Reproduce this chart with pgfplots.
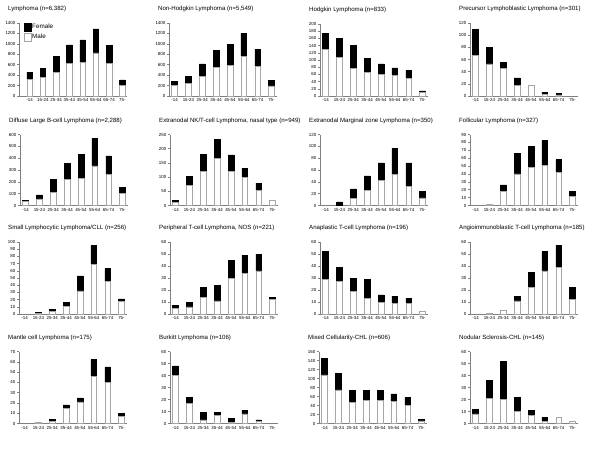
\documentclass[border=0pt]{standalone}
\usepackage{pgfplots}
\pgfplotsset{compat=1.18}
\usepackage{pgfplotstable}
\usepackage{fontspec}
\setmainfont{Liberation Sans}

\pgfplotstableread{
x m1 f1 m2 f2 m3 f3 m4 f4 m5 f5 m6 f6 m7 f7 m8 f8 m9 f9 m10 f10 m11 f11 m12 f12 m13 f13 m14 f14 m15 f15 m16 f16
0 320 140 200 85 130 43 67 42 38 4 10 7 0 0 0 0 0 0 5 2 29 23 0 0 0 0 40 8 108 37 8 4
1 355 180 245 135 108 53 53 27 55 35 70 33 0 6 1 0 1 1 6 4 27 12 1 0 1 0 17 5 75 37 21 15
2 450 310 370 245 77 63 45 10 110 110 120 61 12 16 18 8 4 2 14 8 19 11 3 0 2 2 3 6 47 26 20 32
3 620 360 550 330 66 38 18 12 220 135 167 66 25 25 40 26 11 5 11 13 13 16 11 4 15 3 7 2 52 21 10 12
4 645 430 585 405 60 29 17 0 230 205 120 58 42 30 48 27 32 21 30 15 10 6 22 13 21 4 1 3 52 21 7 4
5 825 460 765 440 58 20 3 3 335 235 100 31 52 44 51 32 69 26 34 15 9 6 36 16 46 16 8 3 50 16 2 3
6 620 345 565 335 49 22 2 2 260 160 53 26 32 40 42 16 45 18 36 14 9 4 39 18 40 15 2 1 41 17 5 0
7 210 100 195 100 10 4 0 0 100 55 17 2 13 11 12 6 18 3 12 2 2 0 12 10 7 3 0 0 6 4 2 0
}\data

\pgfplotsset{
  panel/.style={
    scale only axis, width=108pt,
    ybar stacked, bar width=5.7pt,
    enlargelimits=false, ymin=0,
    xmin=-0.4, xmax=7.4,
    axis x line*=bottom, axis y line*=left,
    axis line style={-, draw=gray, line width=0.6pt},
    xtick={0,...,7},
    xticklabels={-14,15-24,25-34,35-44,45-54,55-64,65-74,75-},
    x tick style={draw=none},
    extra x ticks={0.5,1.5,...,6.5},
    extra x tick labels={},
    extra x tick style={major tick length=1.2pt, tick style={draw=gray!70, line width=0.4pt}},
    y tick style={draw=gray, line width=0.5pt},
    tick align=outside, major tick length=2pt,
    ticklabel style={font=\fontsize{4.4}{5}\selectfont},
    /pgf/number format/assume math mode=true,
    /pgf/number format/1000 sep={},
    xticklabel style={inner sep=1pt, yshift=0.3pt},
    yticklabel style={inner sep=1.5pt},
    title style={at={(rel axis cs:0,1)}, anchor=base west, xshift=-11pt, yshift=6.2pt, inner sep=0pt, font=\fontsize{6.1}{7}\selectfont},
  },
  mbar/.style={fill=white, draw=gray!70, line width=0.5pt},
  fbar/.style={fill=black, draw=black, line width=0.5pt},
}

\newcommand{\panel}[8]{%
\begin{axis}[panel, at={(#2pt,-#3pt)}, anchor=south west, height=#4pt,
  ymax=#5, ytick distance=#6, title={#7}, #8]
\addplot[mbar] table[x=x, y=m#1] {\data};
\addplot[fbar] table[x=x, y=f#1] {\data};
\end{axis}}

\begin{document}
\begin{tikzpicture}
\useasboundingbox (0pt,0pt) rectangle (600pt,-450pt);
\begin{axis}[panel, at={(19pt,-96pt)}, anchor=south west, height=73pt,
  ymax=1400, ytick distance=200, title={Lymphoma (n=6,382)}, xmin=-0.8, xmax=7.35,
  legend cell align=left,
  legend style={at={(rel axis cs:0.04,1.0)}, anchor=north west, draw=none, fill=none,
    font=\fontsize{6.3}{7}\selectfont, row sep=1.8pt, inner sep=0pt,
    nodes={inner sep=0.6pt}},
  legend image code/.code={\draw[#1] (0pt,-3.8pt) rectangle (7.6pt,3.8pt);}]
\addlegendimage{fbar}
\addlegendentry{Female}
\addlegendimage{mbar}
\addlegendentry{Male}
\addplot[mbar, forget plot] table[x=x, y=m1] {\data};
\addplot[fbar, forget plot] table[x=x, y=f1] {\data};
\end{axis}
\panel{2}{169}{96}{73}{1400}{200}{Non-Hodgkin Lymphoma (n=5,549)}{}
\panel{3}{320}{96}{72}{200}{20}{Hodgkin Lymphoma (n=833)}{}
\panel{4}{470}{96}{73}{120}{20}{Precursor Lymphoblastic Lymphoma (n=301)}{}
\panel{5}{20}{205.5}{71}{600}{100}{Diffuse Large B-cell Lymphoma (n=2,288)}{}
\panel{6}{170}{205.5}{71}{250}{50}{Extranodal NK/T-cell Lymphoma, nasal type (n=949)}{}
\panel{7}{320}{205.5}{71}{120}{20}{Extranodal Marginal zone Lymphoma (n=350)}{}
\panel{8}{470}{205.5}{71}{90}{10}{Follicular Lymphoma (n=327)}{}
\panel{9}{19}{314}{72}{100}{10}{Small Lymphocytic Lymphoma/CLL (n=256)}{}
\panel{10}{170}{314}{72}{60}{10}{Peripheral T-cell Lymphoma, NOS (n=221)}{}
\panel{11}{320}{314}{72}{60}{10}{Anaplastic T-cell Lymphoma (n=196)}{}
\panel{12}{470}{314}{72}{60}{10}{Angioimmunoblastic T-cell Lymphoma (n=185)}{}
\panel{13}{19}{423.5}{72}{70}{10}{Mantle cell Lymphoma (n=175)}{}
\panel{14}{170}{423.5}{72}{60}{10}{Burkitt Lymphoma (n=106)}{}
\panel{15}{319}{423.5}{72}{160}{20}{Mixed Cellularity-CHL (n=606)}{}
\panel{16}{470}{423.5}{72}{60}{10}{Nodular Sclerosis-CHL (n=145)}{}
\end{tikzpicture}
\end{document}
